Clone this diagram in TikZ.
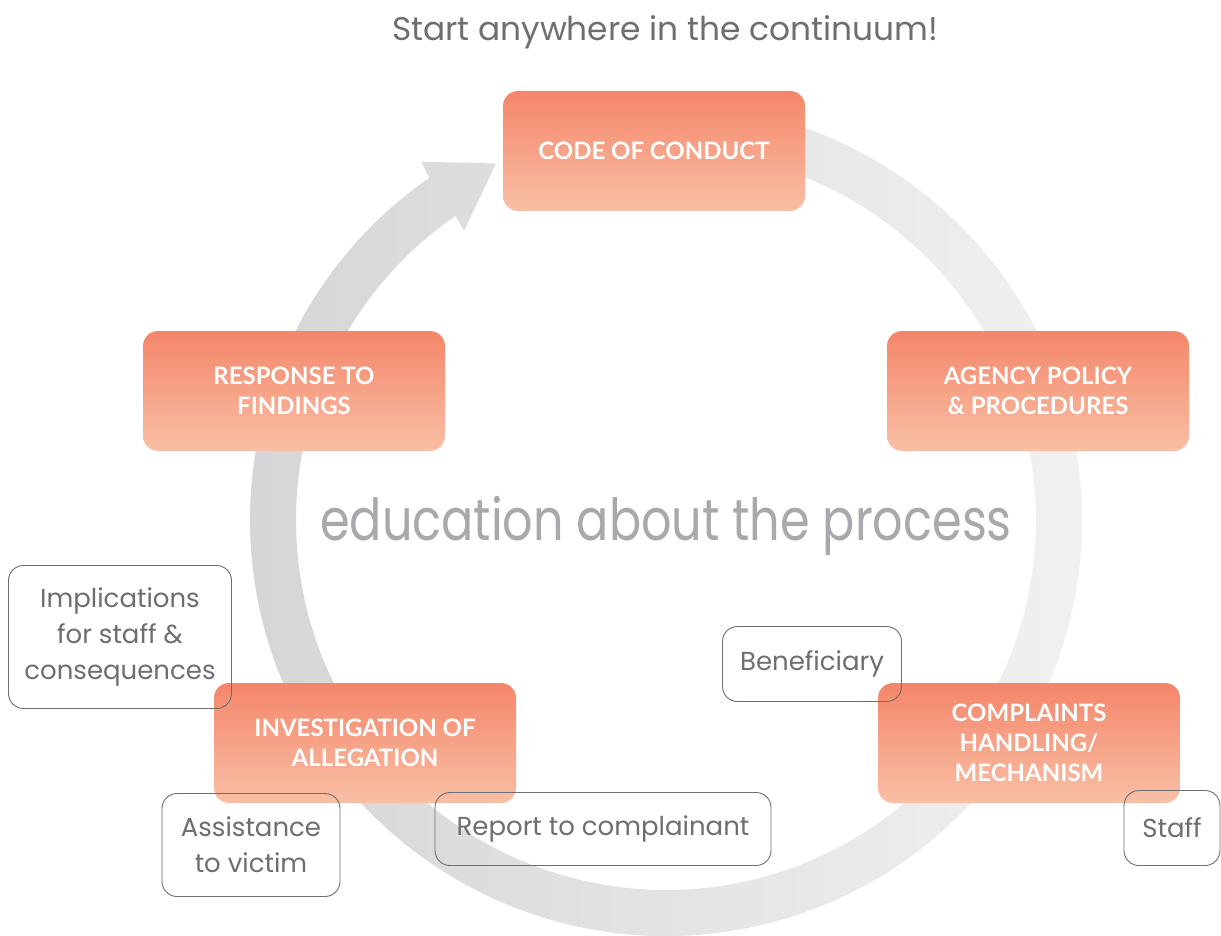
\documentclass[tikz,border=0pt]{standalone}
\usepackage{fontspec}
\setmainfont{Poppins}
\newfontfamily\boxfont{Lato}
\definecolor{txtgray}{HTML}{6D6E71}
\definecolor{edugray}{HTML}{A7A9AC}
\definecolor{otop}{HTML}{F4866A}
\definecolor{obot}{HTML}{F9BFA5}
\definecolor{ringdark}{HTML}{D5D5D7}
\definecolor{ringlight}{HTML}{F2F2F3}
\begin{document}
\begin{tikzpicture}[x=1pt,y=-1pt,
  orangebox/.style={rounded corners=15pt, top color=otop, bottom color=obot,
    minimum width=302pt, minimum height=120pt, inner sep=0pt, text=white,
    font=\boxfont\bfseries\fontsize{24}{30}\selectfont, align=center},
  outlinebox/.style={draw=txtgray, line width=0.9pt, rounded corners=15pt,
    inner sep=0pt, text=txtgray, font=\fontsize{26}{36}\selectfont, align=center},
  titletext/.style={text=txtgray, font=\fontsize{32.8}{38}\selectfont},
  edutext/.style={text=edugray, font=\fontsize{58}{64}\selectfont}]
\useasboundingbox (0,0) rectangle (1221,936);
\fill[white] (0,0) rectangle (1221,936);
% ring with arrow
\begin{scope}[shift={(666,520)},x=1pt,y=1pt]
\shade[left color=ringdark, right color=ringlight]
  (100:416pt) arc[start angle=100, end angle=-235.3, radius=416pt]
  -- (124.3:433.7pt) -- (115.5:395pt) -- (124.9:352.9pt)
  -- (-235.3:370pt) arc[start angle=-235.3, end angle=100, radius=370pt] -- cycle;
\end{scope}
% title and centre text
\node[titletext] (title) at (665,32) {Start anywhere in the continuum!};
\node[edutext] (edu) at (666,526) {\scalebox{0.823}[1]{education about the process}};
% main steps
\node[orangebox] (code) at (654,151) {CODE OF CONDUCT};
\node[orangebox] (resp) at (294,391) {RESPONSE TO\\FINDINGS};
\node[orangebox] (agency) at (1038,391) {AGENCY POLICY\\\& PROCEDURES};
\node[orangebox] (invest) at (365,743) {INVESTIGATION OF\\ALLEGATION};
\node[orangebox] (compl) at (1029,743) {COMPLAINTS\\HANDLING/\\MECHANISM};
% side notes
\node[outlinebox, minimum width=223pt, minimum height=143pt] (impl) at (120,637) {Implications\\for staff \&\\consequences};
\node[outlinebox, minimum width=178pt, minimum height=103pt] (assist) at (251,845) {Assistance\\to victim};
\node[outlinebox, minimum width=336pt, minimum height=73pt] (report) at (603,829) {Report to complainant};
\node[outlinebox, minimum width=179pt, minimum height=75pt] (benef) at (812,664) {Beneficiary};
\node[outlinebox, minimum width=96pt, minimum height=75pt] (staff) at (1172,828) {Staff};
\end{tikzpicture}
\end{document}
